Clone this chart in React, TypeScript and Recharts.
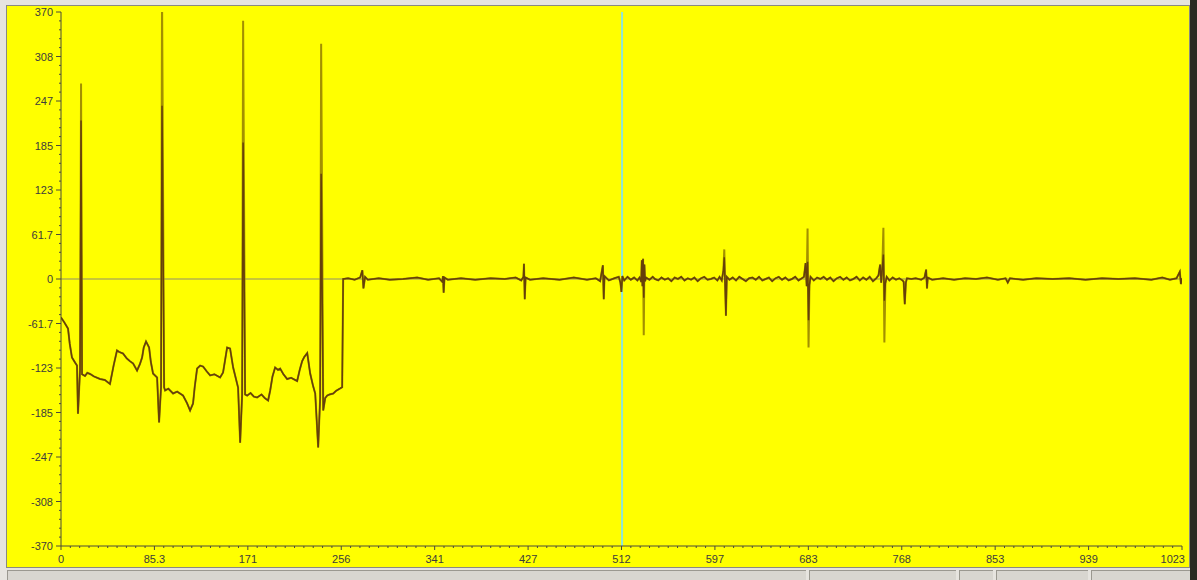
import React from "react";

import {
  LineChart,
  Line,
  XAxis,
  YAxis,
  ReferenceLine
} from "recharts";

// captured trace: [sample, amplitude]
const mainTrace: [number, number][] = [
  [0, -53.4], [3, -60], [6.4, -68.6], [8, -90], [10, -108.8], [12.8, -115.7], [14.6, -119.9],
  [15.5, -186.6], [17.4, -125], [18.3, 219.6], [19.2, -132], [21.9, -134.4], [24, -130],
  [26.5, -131.6], [30, -135], [35.6, -138.6], [40, -140], [44.7, -145.5], [48, -120], [51.1, -99],
  [53, -101], [56.6, -103.2], [60, -110], [63, -114], [65.8, -117.1], [69.4, -126.8], [72, -118],
  [74, -108.8], [75.5, -95], [77.6, -86.6], [80.4, -94.9], [82, -115], [84, -131], [87.7, -136.5],
  [89.5, -198.9], [91.3, -150], [92.2, 240], [94.1, -150], [95, -154.5], [98, -152], [102.3, -158.7],
  [106, -156], [111.4, -161.5], [115, -172], [117.8, -182.2], [120.5, -172.5], [122, -150],
  [124.2, -124.1], [127, -120], [129.7, -121.3], [133, -128], [136.1, -133.7], [140, -132],
  [145.2, -136.5], [147.9, -129.6], [150, -110], [151.6, -94.9], [154.3, -96.3], [157.1, -122.7],
  [161.6, -150.4], [163.5, -226.9], [165.3, -160], [166.2, 189], [168, -160], [169.9, -161.5],
  [173, -158], [176, -163], [179, -164.2], [183, -160], [186, -165], [189, -168.4], [190.9, -154.5],
  [193, -135], [195.4, -122.7], [198, -126], [200, -124.1], [203, -132], [206.4, -138.6], [210, -137],
  [215.5, -141.4], [218, -125], [220.1, -113.7], [222, -108], [224.7, -102.6], [227.4, -131],
  [230, -148], [232, -158.7], [234.7, -233.5], [236.5, -165], [237.4, 146], [239.3, -182.2],
  [241.1, -165], [242.9, -161.5], [245, -160], [248.4, -158.7], [251, -155], [254.8, -151.7],
  [256.6, -150], [257.5, 0],
  [262, 1], [268, -1], [273, 2], [275, 12], [276, -13], [277.5, 3], [280, -1], [290, 1], [300, -1],
  [312, 0], [325, 2], [335, -1], [345, 1], [348, -4], [348.6, 4], [349.2, -19], [350, 2], [353, -1],
  [365, 1], [378, -1], [392, 1], [405, 0], [415, 2], [420, -2], [422, 3], [422.5, 21], [423.2, -28],
  [424, 2], [428, -1], [440, 1], [455, -1], [468, 2], [480, -1], [488, 1], [492, -3], [494.5, 19],
  [495.3, -28], [496, 4], [500, -2], [505, 1], [509, 3], [510.5, -5], [511.4, -18], [512.3, 4],
  [514, -2], [517, 3], [520, -1], [523, 2], [526, -2], [528, 2], [529.5, -4], [530, 26], [530.6, -10],
  [531.2, 28], [531.8, -26], [532.4, 20], [533, -3], [534, 2], [537, -1], [540, 3], [542, 0],
  [545, -2], [548, 2], [551, -1], [554, 1], [557, -3], [560, 2], [563, 0], [566, 3], [569, -2],
  [572, 1], [575, -1], [578, 2], [581, -3], [584, 1], [587, 3], [590, -1], [593, 0], [596, 2],
  [599, -2], [601, 3], [603, -2], [604.5, 12], [605.3, 30], [606, -5], [606.8, -51], [607.6, 3],
  [610, -1], [613, 2], [616, -2], [619, 3], [622, 0], [625, -3], [628, 1], [631, 2], [634, -1],
  [637, 3], [640, -2], [643, 0], [646, 2], [649, -3], [652, 1], [655, 3], [658, -1], [661, 2],
  [664, -2], [667, 0], [670, 3], [673, -2], [676, 1], [678, 3], [679.5, 22], [680.5, -10], [681.3, 24],
  [682.2, -57], [683, -8], [684, 3], [687, -2], [690, 2], [693, 0], [696, 3], [699, -1], [702, 2],
  [705, -3], [708, 1], [711, 3], [714, -1], [717, 2], [720, -2], [723, 0], [726, 3], [729, -2],
  [732, 2], [735, -1], [738, 3], [741, -3], [744, 1], [746, 5], [747.5, 20], [748.5, -5], [749.5, 15],
  [750.5, 34], [751.4, -30], [752.3, -6], [753.5, 3], [756, -2], [759, 2], [762, -1], [765, 1],
  [768, -2], [769, -4], [770, -35], [771, -5], [772, 1], [776, 0], [780, 1], [785, -1], [788, 2],
  [789.5, 13], [790.3, -13], [791, 2], [795, -1], [805, 1], [815, -1], [825, 1], [835, 0], [845, 2],
  [855, -1], [862, 1], [864, -5], [866, 1], [878, -1], [890, 1], [905, 0], [920, 1], [935, -1],
  [950, 1], [965, 0], [980, 1], [995, -1], [1005, 2], [1012, -1], [1018, 1], [1021, 10], [1022, -7],
  [1023, 1]
];

// second channel overshoots at these samples
const tallPeaks: [number, number][] = [
  [18.3, 271], [92.2, 395], [166.2, 358], [237.4, 326],
  [531.8, -78], [605.3, 41], [681.3, 70], [682.2, -95], [750.5, 71], [751.4, -88]
];

const xTicks = ["0", "85.3", "171", "256", "341", "427", "512", "597", "683", "768", "853", "939", "1023"];
const yTicks = ["370", "308", "247", "185", "123", "61.7", "0", "-61.7", "-123", "-185", "-247", "-308", "-370"];

const cursorAt = 512;

// 10 steps between labelled x ticks, 5 between labelled y ticks
const xSteps = Array.from({ length: 121 }, (_, i) => (i * 1023) / 120);
const ySteps = Array.from({ length: 61 }, (_, i) => 370 - (i * 740) / 60);

const peakMap = new Map(tallPeaks);

const rows = mainTrace.map(([x, y]) => ({
  x,
  main: y,
  tall: peakMap.has(x) ? peakMap.get(x) : y
}));

const font = "'Liberation Sans', Arial, sans-serif";
const axisInk = "#4a4a3a";

function XTick(props: any) {
  const { x, y, index } = props;
  const major = index % 10 === 0;
  const last = index === xSteps.length - 1;
  return (
    <g>
      <line x1={x} x2={x} y1={y} y2={y + (major ? 4 : 2)} stroke={axisInk} />
      {major && (
        <text
          x={last ? x + 3 : x}
          y={y + 8}
          dy={9}
          textAnchor={last ? "end" : "middle"}
          fontFamily={font}
          fontSize={11}
          fill="#3c3c3c"
        >
          {xTicks[index / 10]}
        </text>
      )}
    </g>
  );
}

function YTick(props: any) {
  const { x, y, index } = props;
  const major = index % 5 === 0;
  return (
    <g>
      <line x1={x - (major ? 5 : 2)} x2={x} y1={y} y2={y} stroke={axisInk} />
      {major && (
        <text
          x={x - 8}
          y={y}
          dy={4}
          textAnchor="end"
          fontFamily={font}
          fontSize={11}
          fill="#3c3c3c"
        >
          {yTicks[index / 5]}
        </text>
      )}
    </g>
  );
}

const panels = [
  [7, 805],
  [809, 955],
  [959, 992],
  [996, 1087],
  [1091, 1189]
];

function App() {
  return (
    <div style={{ position: "absolute", left: 0, top: 0, width: 1197, height: 580, background: "#e6e4df", overflow: "hidden" }}>
      <div style={{ position: "absolute", left: 6, top: 5, width: 1182, height: 561, background: "#ffff00", border: "1px solid #8a8a80" }} />
      <div style={{ position: "absolute", left: 1190, top: 0, width: 7, height: 580, background: "#2b2a22" }} />

      {panels.map(([a, b]) => (
        <div
          key={a}
          style={{
            position: "absolute",
            left: a,
            top: 570,
            width: b - a,
            height: 12,
            background: "#d8d6d0",
            borderTop: "1px solid #9a9890",
            borderLeft: "1px solid #9a9890"
          }}
        />
      ))}

      <div style={{ position: "absolute", left: 0, top: 0 }}>
        <LineChart
          width={1190}
          height={570}
          data={rows}
          margin={{ top: 12, right: 8, bottom: 2, left: 0 }}
        >
          <XAxis
            dataKey="x"
            type="number"
            domain={[0, 1023]}
            allowDataOverflow
            ticks={xSteps}
            interval={0}
            tickSize={0}
            tickMargin={0}
            tick={<XTick />}
            tickLine={false}
            axisLine={{ stroke: axisInk }}
            height={22}
          />
          <YAxis
            type="number"
            domain={[-370, 370]}
            allowDataOverflow
            ticks={ySteps}
            interval={0}
            tickSize={0}
            tickMargin={0}
            tick={<YTick />}
            tickLine={false}
            axisLine={{ stroke: axisInk }}
            width={61}
          />

          <ReferenceLine y={0} stroke="#8f8d70" strokeWidth={1} />
          <ReferenceLine x={cursorAt} stroke="#8fe6d6" strokeWidth={2} />

          <Line
            dataKey="tall"
            type="linear"
            stroke="#a39000"
            strokeWidth={2}
            dot={false}
            isAnimationActive={false}
          />
          <Line
            dataKey="main"
            type="linear"
            stroke="#66400a"
            strokeWidth={1.5}
            dot={false}
            isAnimationActive={false}
          />
        </LineChart>
      </div>
    </div>
  );
}

export default App;
